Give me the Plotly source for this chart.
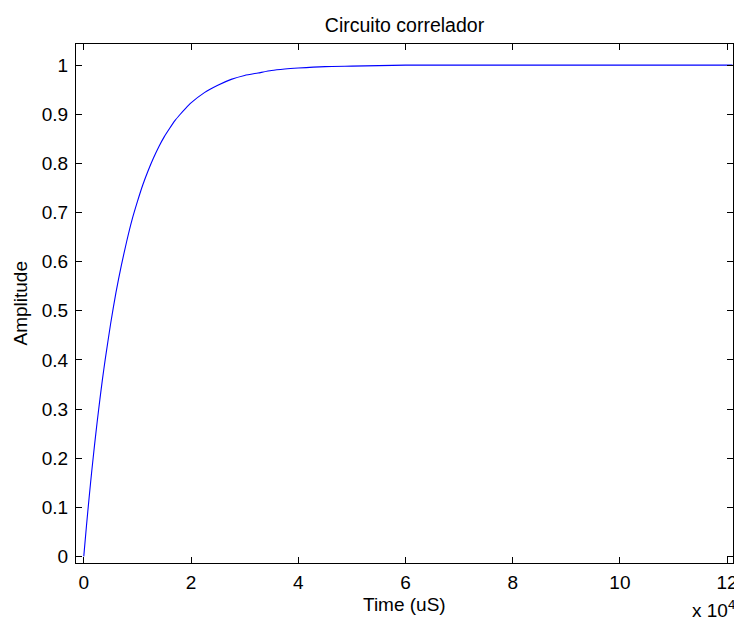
import plotly.graph_objects as go

# time in microseconds (axis scaled x 10^4)
time_us = [0, 500, 1000, 1500, 2000, 2500, 3000, 3500, 4000, 5000, 6000, 7000, 8000,
           9000, 10000, 11000, 12000, 13000, 14000, 15000, 16000, 17000, 18000, 19000,
           20000, 22500, 25000, 27500, 30000, 32500, 35000, 37500, 40000, 45000, 50000,
           55000, 60000, 70000, 80000, 100000, 121000]
amplitude = [0.0, 0.062, 0.120, 0.175, 0.226, 0.274, 0.319, 0.362, 0.401, 0.473, 0.537,
             0.592, 0.641, 0.685, 0.722, 0.756, 0.785, 0.811, 0.834, 0.854, 0.871, 0.887,
             0.900, 0.912, 0.923, 0.944, 0.959, 0.971, 0.979, 0.984, 0.989, 0.992, 0.994,
             0.997, 0.998, 0.999, 1.0, 1.0, 1.0, 1.0, 1.0]

x_tickvals = [0, 20000, 40000, 60000, 80000, 100000, 120000]
x_ticktext = ["0", "2", "4", "6", "8", "10", "12"]
y_tickvals = [0, 0.1, 0.2, 0.3, 0.4, 0.5, 0.6, 0.7, 0.8, 0.9, 1.0]
y_ticktext = ["0", "0.1", "0.2", "0.3", "0.4", "0.5", "0.6", "0.7", "0.8", "0.9", "1"]

fig = go.Figure()
fig.add_trace(go.Scatter(x=time_us, y=amplitude, mode="lines",
                         line=dict(color="#0000ff", width=1.1, shape="spline", smoothing=0.6),
                         showlegend=False, hoverinfo="skip"))

font_family = "Liberation Sans, Arial, sans-serif"
FS = 19
fig.update_layout(
    width=734, height=624,
    margin=dict(l=76, r=1, t=44, b=61, autoexpand=False),
    paper_bgcolor="white", plot_bgcolor="white",
    font=dict(family=font_family, size=FS, color="black"),
    title=dict(text="Circuito correlador", x=0.5, xanchor="center", xref="paper",
               y=1 - 25 / 624, yref="container", yanchor="middle",
               font=dict(size=19.5, color="black")),
    xaxis=dict(range=[-1450, 121100], tickvals=x_tickvals, ticktext=x_ticktext,
               ticks="inside", ticklen=6, tickcolor="black", tickwidth=1,
               showline=True, linecolor="black", linewidth=1, mirror="ticks",
               showgrid=False, zeroline=False, ticklabeloverflow="allow",
               automargin=False, ticklabelstandoff=2, tickfont=dict(size=FS)),
    yaxis=dict(range=[-0.0134, 1.043], tickvals=y_tickvals, ticktext=y_ticktext,
               ticks="inside", ticklen=6, tickcolor="black", tickwidth=1,
               showline=True, linecolor="black", linewidth=1, mirror="ticks",
               showgrid=False, zeroline=False, ticklabelstandoff=3,
               automargin=False, tickfont=dict(size=FS)),
    annotations=[
        dict(text="Time (uS)", xref="paper", yref="paper", x=0.5, y=0,
             xanchor="center", yanchor="middle", yshift=-(604 - 563),
             showarrow=False, font=dict(size=FS, color="black")),
        dict(text="Amplitude", xref="paper", yref="paper", x=0, y=0.5,
             xanchor="center", yanchor="middle", xshift=-(76 - 20), textangle=-90,
             showarrow=False, font=dict(size=FS, color="black")),
        dict(text="x 10<sup>4</sup>", xref="paper", yref="paper",
             x=1.0, y=0, xanchor="right", yanchor="middle", xshift=4, yshift=-(609 - 563),
             showarrow=False, font=dict(size=FS, color="black")),
    ],
)

fig.write_html("out.html")
